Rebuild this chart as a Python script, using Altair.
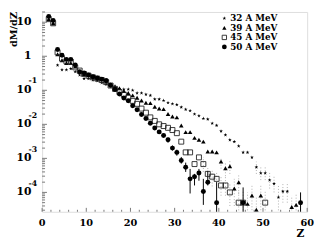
import altair as alt
import pandas as pd

# ---------------- data ----------------
z32 = list(range(1, 56))
v32 = [12, 8.9, 0.55, 0.40, 0.40, 0.43, 0.35, 0.28, 0.22, 0.22,
       0.20, 0.19, 0.166, 0.15, 0.13, 0.12, 0.112, 0.107, 0.107, 0.10,
       0.083, 0.083, 0.076, 0.071, 0.055, 0.055, 0.050, 0.043, 0.040, 0.038,
       0.032, 0.0275, 0.025, 0.020, 0.0178, 0.0148, 0.0141, 0.0107, 0.0093, 0.0063,
       0.0049, 0.0035, 0.0031, 0.0023, 0.0015, 0.0015, 0.00107, 0.00055, 0.00037, 0.00037,
       0.00023, 0.00018, 0.000072, 0.000107, 0.000107]

z39 = list(range(1, 45)) + [46, 47, 48, 49, 56, 57]
v39 = [12.3, 9.3, 1.15, 0.76, 0.63, 0.63, 0.50, 0.35, 0.30, 0.28,
       0.25, 0.22, 0.21, 0.18, 0.148, 0.132, 0.115, 0.095, 0.083, 0.071,
       0.060, 0.050, 0.043, 0.042, 0.033, 0.029, 0.028, 0.020, 0.017, 0.016,
       0.0093, 0.0059, 0.0059, 0.0040, 0.0035, 0.0031, 0.0016, 0.0016, 0.0015, 0.00081,
       0.00051, 0.00059, 0.00013, 0.0002,
       0.000046, 0.000081, 0.000031, 0.000081, 0.000037, 0.000043]

z45 = list(range(1, 43)) + [44, 45, 50]
v45 = [12.3, 9.3, 1.3, 0.85, 0.71, 0.68, 0.47, 0.38, 0.30, 0.27,
       0.24, 0.22, 0.20, 0.174, 0.138, 0.11, 0.089, 0.074, 0.060, 0.049,
       0.040, 0.029, 0.022, 0.016, 0.0126, 0.010, 0.0089, 0.0079, 0.0068, 0.0055,
       0.0031, 0.0015, 0.0015, 0.00068, 0.00107, 0.00068, 0.00035, 0.00029, 0.00025, 0.00016,
       0.00016, 0.0001, 0.00005, 0.00005, 0.00005]

z50 = list(range(1, 38)) + [39, 45, 58]
v50 = [14.8, 11.2, 1.58, 1.07, 0.81, 0.81, 0.55, 0.35, 0.32, 0.28,
       0.25, 0.23, 0.21, 0.195, 0.14, 0.105, 0.078, 0.059, 0.049, 0.035,
       0.027, 0.0195, 0.0148, 0.0107, 0.0078, 0.006, 0.0047, 0.0035, 0.002, 0.0015,
       0.00087, 0.00055, 0.00025, 0.00029, 0.00037, 0.000107, 0.0002,
       0.00005, 0.00005, 0.00005]

# error bars (Z, low, high) on the tails
e50_z = [28, 29, 30, 31, 32, 33, 34, 35, 36, 37, 39, 45, 58]
e50_lo = [0.0029, 0.0017, 0.0012, 0.0007, 0.0004, 0.000093, 0.00016, 0.00022, 0.000043, 0.00016, 0.00002, 0.00002, 0.00002]
e50_hi = [0.0041, 0.0024, 0.0018, 0.0011, 0.00075, 0.00049, 0.00035, 0.00049, 0.00025, 0.00043, 0.0002, 0.00014, 0.0001]

e39_z = [40, 41, 42, 43, 44, 46, 47, 48, 49, 56, 57]
e39_lo = [0.0005, 0.0003, 0.00035, 0.00004, 0.00009, 0.00002, 0.00003, 0.00002, 0.00003, 0.00002, 0.00002]
e39_hi = [0.0011, 0.0008, 0.0009, 0.00025, 0.00035, 0.0001, 0.00016, 0.00007, 0.00016, 0.00008, 0.00009]

e45_z = [36, 37, 38, 39, 40, 41, 42, 44, 45, 50]
e45_lo = [0.0004, 0.00018, 0.00015, 0.00013, 0.00008, 0.00008, 0.00004, 0.00002, 0.00002, 0.00002]
e45_hi = [0.0011, 0.00055, 0.00045, 0.0004, 0.00028, 0.00028, 0.00018, 0.00011, 0.00011, 0.00011]

e32_z = [48, 49, 50, 51, 52, 53, 54, 55]
e32_lo = [0.00035, 0.00023, 0.00023, 0.00013, 0.0001, 0.00002, 0.00005, 0.00005]
e32_hi = [0.0008, 0.00055, 0.00055, 0.00038, 0.0003, 0.00016, 0.0002, 0.0002]

legend_labels = ["32 A MeV", "39 A MeV", "45 A MeV", "50 A MeV"]

x_major = [0, 10, 20, 30, 40, 50, 60]
x_minor = [2, 4, 6, 8, 12, 14, 16, 18, 22, 24, 26, 28, 32, 34, 36, 38,
           42, 44, 46, 48, 52, 54, 56, 58]
y_major = [10, 1, 0.1, 0.01, 0.001, 0.0001]
y_base = ["10", "1", "10", "10", "10", "10"]
y_exp = ["", "", "-1", "-2", "-3", "-4"]
y_minor = [k * 10.0 ** d for d in range(-5, 2) for k in range(2, 10)
           if 2.7e-5 <= k * 10.0 ** d <= 20]

# ---------------- layout ----------------
W, H = 272, 205
FONT = "DejaVu Serif"
STAR = ("M0,-1L0.235,-0.324L0.951,-0.309L0.380,0.124L0.588,0.809L0,0.4"
        "L-0.588,0.809L-0.380,0.124L-0.951,-0.309L-0.235,-0.324Z")

xs = alt.Scale(domain=[0, 60], nice=False, zero=False)
ys = alt.Scale(type="log", domain=[2.7e-5, 20], nice=False)


def series_df(z, v):
    return pd.DataFrame({"Z": z, "v": v})


def err_df(z, lo, hi):
    return pd.DataFrame({"Z": z, "lo": lo, "hi": hi})


def pts(z, v, **mk):
    return (alt.Chart(series_df(z, v))
            .transform_calculate(xc="datum.Z + 0.5")
            .mark_point(clip=True, **mk)
            .encode(x=alt.X("xc:Q", scale=xs, axis=None),
                    y=alt.Y("v:Q", scale=ys, axis=None)))


def errs(z, lo, hi, **mk):
    return (alt.Chart(err_df(z, lo, hi))
            .transform_calculate(xc="datum.Z + 0.5")
            .mark_rule(clip=True, **mk)
            .encode(x=alt.X("xc:Q", scale=xs, axis=None),
                    y=alt.Y("lo:Q", scale=ys, axis=None),
                    y2="hi:Q"))


dotted = dict(color="#9a9a9a", strokeWidth=0.8, strokeDash=[1, 2])
layers = [
    errs(e32_z, e32_lo, e32_hi, **dotted),
    errs(e39_z, e39_lo, e39_hi, **dotted),
    errs(e45_z, e45_lo, e45_hi, **dotted),
    errs(e50_z, e50_lo, e50_hi, color="black", strokeWidth=1),
    pts(z32, v32, shape=STAR, filled=True, color="black", size=16, opacity=1),
    pts(z39, v39, shape="triangle-up", filled=True, color="black", size=22, opacity=1),
    pts(z45, v45, shape="square", filled=False, color="#222", strokeWidth=0.9, size=26, opacity=1),
    pts(z50, v50, shape="circle", filled=True, color="black", size=26, opacity=1),
]

# ticks (inside the frame)
tick_col = "#777"
xmaj = pd.DataFrame({"t": x_major})
xmin = pd.DataFrame({"t": x_minor})
ymaj = pd.DataFrame({"t": y_major, "base": y_base, "exp": y_exp})
ymin = pd.DataFrame({"t": y_minor})

layers += [
    alt.Chart(xmaj).mark_rule(color=tick_col, strokeWidth=1).encode(
        x=alt.X("t:Q", scale=xs, axis=None), y=alt.value(H - 4), y2=alt.value(H)),
    alt.Chart(xmin).mark_rule(color=tick_col, strokeWidth=1).encode(
        x=alt.X("t:Q", scale=xs, axis=None), y=alt.value(H - 2), y2=alt.value(H)),
    alt.Chart(ymaj).mark_rule(color=tick_col, strokeWidth=1).encode(
        y=alt.Y("t:Q", scale=ys, axis=None), x=alt.value(0), x2=alt.value(5)),
    alt.Chart(ymin).mark_rule(color=tick_col, strokeWidth=1).encode(
        y=alt.Y("t:Q", scale=ys, axis=None), x=alt.value(0), x2=alt.value(3)),
    # tick labels
    alt.Chart(xmaj).mark_text(font=FONT, fontWeight="bold", fontSize=10,
                              baseline="middle", align="center").encode(
        x=alt.X("t:Q", scale=xs, axis=None), y=alt.value(H + 12), text="t:Q"),
    alt.Chart(ymaj).mark_text(font=FONT, fontWeight="bold", fontSize=11,
                              baseline="middle", align="right").encode(
        y=alt.Y("t:Q", scale=ys, axis=None), x=alt.value(-11), text="base:N"),
    alt.Chart(ymaj).mark_text(font=FONT, fontWeight="bold", fontSize=8,
                              baseline="middle", align="right", dy=-9).encode(
        y=alt.Y("t:Q", scale=ys, axis=None), x=alt.value(-5), text="exp:N"),
]

# axis titles
title_df = pd.DataFrame({"x": ["Z"], "y": ["dM/dZ"]})
layers += [
    alt.Chart(title_df).mark_text(font=FONT, fontWeight="bold", fontSize=11,
                                  baseline="middle", align="center").encode(
        x=alt.value(265), y=alt.value(228), text="x:N"),
    alt.Chart(title_df).mark_text(font=FONT, fontWeight="bold", fontSize=10,
                                  baseline="middle", align="right", angle=270).encode(
        x=alt.value(-29), y=alt.value(0), text="y:N"),
]

# legend
leg = pd.DataFrame({"label": legend_labels, "row": [0, 1, 2, 3]})
leg_shapes = [
    dict(shape=STAR, filled=True, color="black", size=16, opacity=1),
    dict(shape="triangle-up", filled=True, color="black", size=20, opacity=1),
    dict(shape="square", filled=False, color="#222", strokeWidth=0.9, size=20, opacity=1),
    dict(shape="circle", filled=True, color="black", size=24, opacity=1),
]
ROW = "6.5 + datum.row * 9.8"
for i, mk in enumerate(leg_shapes):
    layers.append(
        alt.Chart(leg).transform_filter(f"datum.row == {i}")
        .transform_calculate(py=ROW)
        .mark_point(**mk)
        .encode(x=alt.value(187), y=alt.Y("py:Q", scale=None, axis=None)))
layers.append(
    alt.Chart(leg).transform_calculate(py=ROW)
    .mark_text(font=FONT, fontWeight="bold", fontSize=9, baseline="middle", align="left")
    .encode(x=alt.value(193), y=alt.Y("py:Q", scale=None, axis=None), text="label:N"))

chart = (alt.layer(*layers)
         .properties(width=W, height=H,
                     autosize=alt.AutoSizeParams(type="none"),
                     padding={"left": 35, "top": 1, "right": 7, "bottom": 30})
         .configure_view(stroke="#777", strokeWidth=1.5)
         .configure(background="white"))

chart.save("out.html", embed_options={"renderer": "svg", "actions": False})
